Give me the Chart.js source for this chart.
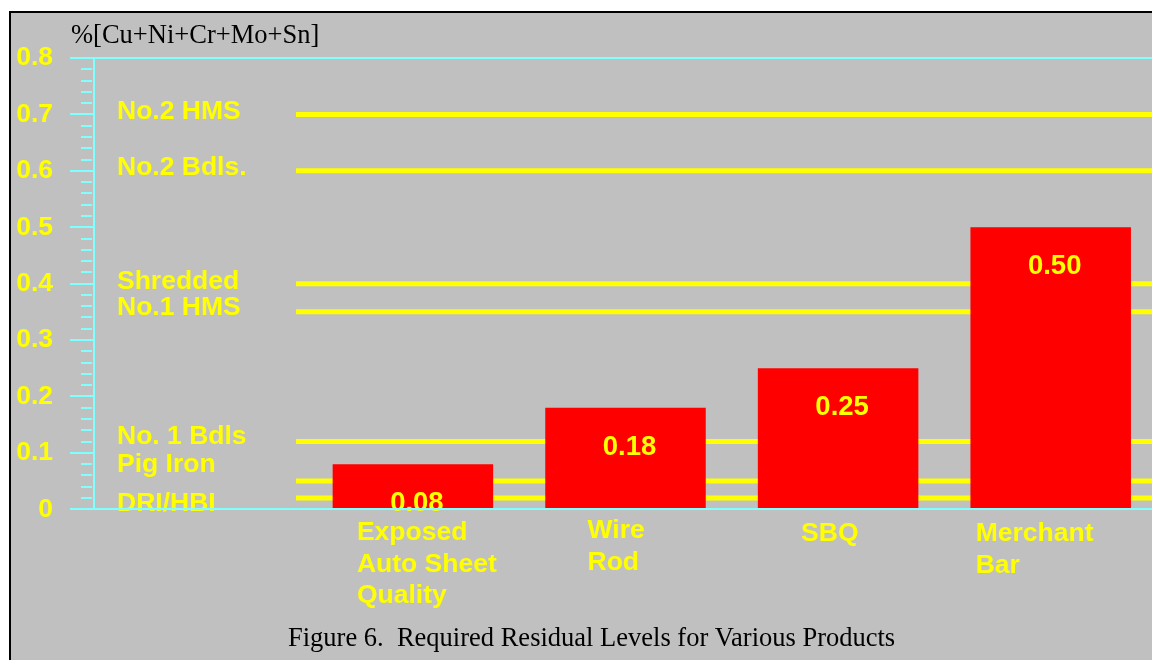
<!DOCTYPE html>
<html>
<head>
<meta charset="utf-8">
<script src="https://cdn.jsdelivr.net/npm/chart.js@4/dist/chart.umd.min.js"></script>
<style>
  html, body { margin: 0; padding: 0; background: #ffffff; overflow: hidden; width: 1152px; height: 660px; }
  #panel { position: absolute; left: 9px; top: 11px; width: 1200px; height: 700px;
           background: #c0c0c0; border-left: 2px solid #000; border-top: 2px solid #000; }
  #c { position: absolute; left: 0; top: 0; }
</style>
</head>
<body>
<div id="panel"></div>
<canvas id="c" width="1160" height="660"></canvas>
<script>
// Products and the residual level each one tolerates (first slot is left empty for the grade captions)
const productLabels = [[], ['Exposed', 'Auto Sheet', 'Quality'], ['Wire', 'Rod'], ['SBQ'], ['Merchant', 'Bar']];
const residualLevels = [null, 0.08, 0.18, 0.25, 0.50];

// Typical residual content of the scrap grades and iron units
const scrapGrades = ['No.2 HMS', 'No.2 Bdls.', 'Shredded', 'No.1 HMS', 'No. 1 Bdls', 'Pig Iron', 'DRI/HBI'];
const scrapResiduals = [0.70, 0.60, 0.40, 0.35, 0.12, 0.05, 0.02];

const axisTitle = '%[Cu+Ni+Cr+Mo+Sn]';
const figureTitle = 'Figure 6.  Required Residual Levels for Various Products';

const YELLOW = '#ffff00';
const CYAN = '#80ffff';
const RED = '#ff0000';
const SANS = '"Liberation Sans", Arial, sans-serif';
const SERIF = '"Liberation Serif", "Times New Roman", serif';

// caption baseline shift from each grade line, and product label placement
const gradeCaptionShift = [5, 4, 5, 3, 2, -9, 13];
const productLabelShift = [0, -56, -38, -37, -75];
const productLabelDrop = [0, 31, 29, 32, 32];

const isMajor = v => Math.abs(v * 10 - Math.round(v * 10)) < 1e-6;

const gradeLines = {
  id: 'gradeLines',
  beforeDatasetsDraw(chart) {
    const { ctx, scales: { x, y } } = chart;
    const x0 = x.getPixelForValue(0);
    const step = x.getPixelForValue(1) - x0;
    const start = x0 + 0.45 * step;
    ctx.save();
    ctx.strokeStyle = YELLOW;
    ctx.lineWidth = 5;
    ctx.fillStyle = YELLOW;
    ctx.font = 'bold 26.5px ' + SANS;
    ctx.textAlign = 'left';
    ctx.textBaseline = 'alphabetic';
    scrapResiduals.forEach((v, i) => {
      const py = y.getPixelForValue(v);
      ctx.beginPath();
      ctx.moveTo(start, py);
      ctx.lineTo(chart.width, py);
      ctx.stroke();
      ctx.fillText(scrapGrades[i], chart.chartArea.left + 23, py + gradeCaptionShift[i]);
    });
    ctx.restore();
  }
};

const textLayer = {
  id: 'textLayer',
  afterDatasetsDraw(chart) {
    const { ctx, chartArea, scales: { x } } = chart;
    const meta = chart.getDatasetMeta(0);
    ctx.save();
    ctx.fillStyle = YELLOW;
    ctx.textBaseline = 'alphabetic';
    ctx.textAlign = 'center';
    ctx.font = 'bold 27.5px ' + SANS;
    meta.data.forEach((bar, i) => {
      if (residualLevels[i] == null) return;
      ctx.fillText(residualLevels[i].toFixed(2), bar.x + 4, bar.y + 47);
    });
    // product names under the axis
    ctx.font = 'bold 26.5px ' + SANS;
    ctx.textAlign = 'left';
    productLabels.forEach((lines, i) => {
      const px = x.getPixelForValue(i) + productLabelShift[i];
      lines.forEach((line, k) => {
        ctx.fillText(line, px, chartArea.bottom + productLabelDrop[i] + k * 31.5);
      });
    });
    // axis caption and figure caption
    ctx.fillStyle = '#000';
    ctx.font = '26.5px ' + SERIF;
    ctx.fillText(axisTitle, chartArea.left - 23, 43);
    ctx.fillText(figureTitle, 288, 646);
    ctx.restore();
  }
};

new Chart(document.getElementById('c'), {
  type: 'bar',
  data: {
    labels: productLabels,
    datasets: [{
      data: residualLevels,
      backgroundColor: RED,
      borderWidth: 0,
      barPercentage: 0.755,
      categoryPercentage: 1.0
    }]
  },
  options: {
    responsive: false,
    animation: false,
    events: [],
    layout: { padding: { left: 0, top: 58, right: 3, bottom: 150.7 } },
    plugins: {
      legend: { display: false },
      tooltip: { enabled: false },
      title: { display: false }
    },
    scales: {
      x: {
        grid: { display: false, drawTicks: false },
        border: { display: true, color: CYAN, width: 2, z: 1 },
        ticks: { display: false }
      },
      y: {
        min: 0,
        max: 0.8,
        afterFit(scale) { scale.width = 94; },
        border: { display: true, color: CYAN, width: 2 },
        grid: {
          drawOnChartArea: true,
          lineWidth: 2,
          color: c => Math.abs(c.tick.value - 0.8) < 1e-6 ? CYAN : 'rgba(0,0,0,0)',
          tickLength: 24,
          tickWidth: 2,
          tickColor: CYAN,
          tickBorderDash: c => isMajor(c.tick.value) ? [] : [0, 11, 11, 40]
        },
        ticks: {
          stepSize: 0.02,
          autoSkip: false,
          padding: 17,
          color: YELLOW,
          font: { family: SANS, size: 26.5, weight: 'bold' },
          callback: v => isMajor(v) ? (Math.abs(v) < 1e-9 ? '0' : v.toFixed(1)) : ''
        }
      }
    }
  },
  plugins: [gradeLines, textLayer]
});
</script>
</body>
</html>
